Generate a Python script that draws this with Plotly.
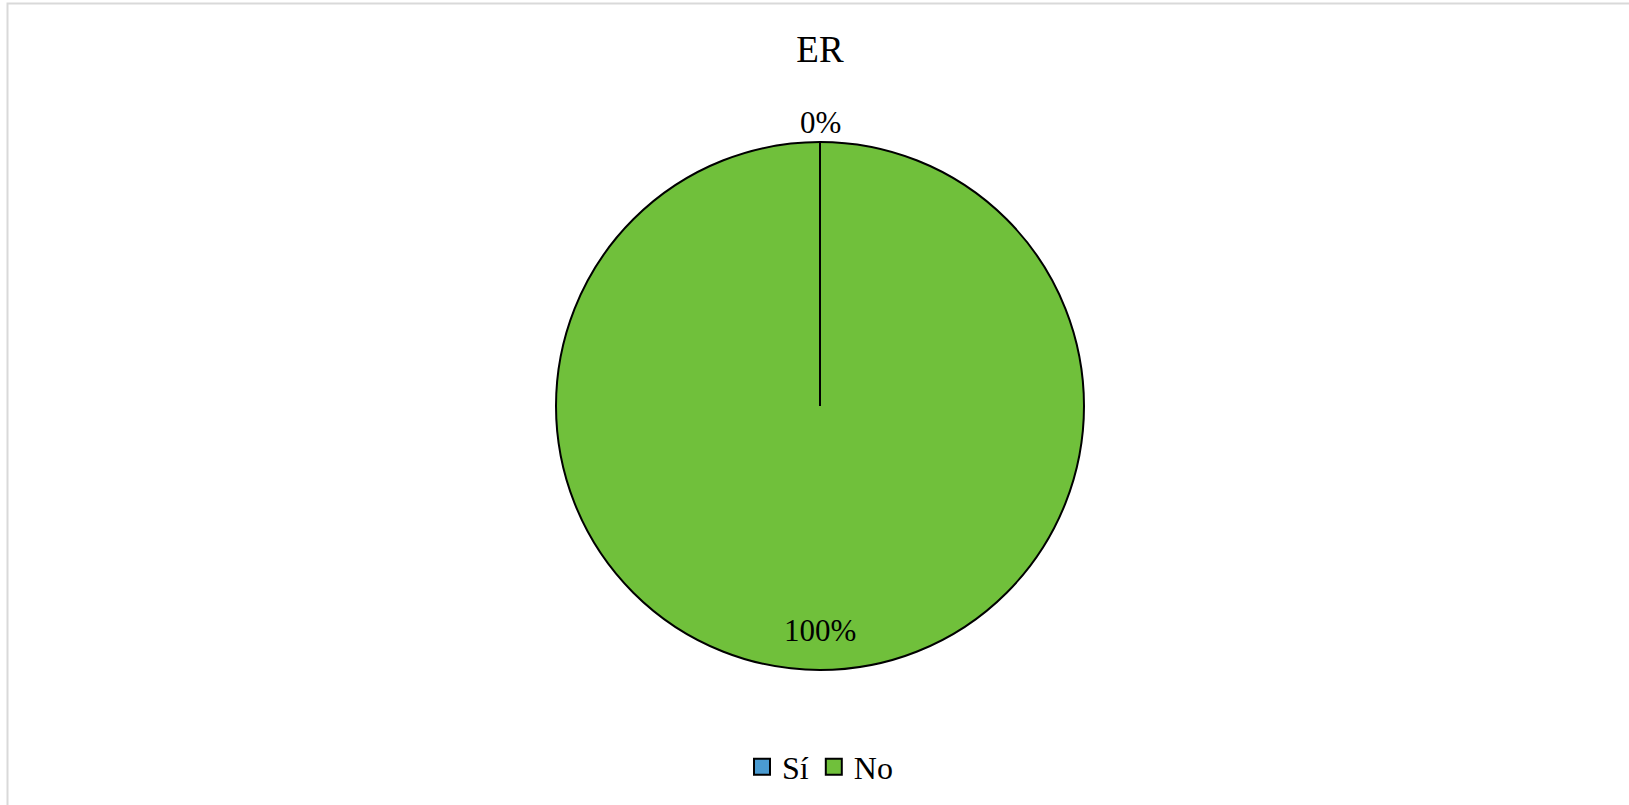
import math
import plotly.graph_objects as go

title = "ER"
categories = ["Sí", "No"]
values = [0, 100]
colors = ["#4A9BD1", "#70C03B"]

W, H = 1629, 805
cx, cy, R = 820, 406, 264  # pixel geometry of the pie

total = sum(values)
pcts = [v / total * 100 for v in values]

fig = go.Figure()
fig.add_trace(go.Pie(
    labels=categories, values=values, sort=False, direction="clockwise", rotation=0,
    marker=dict(colors=colors, line=dict(color="black", width=2)),
    textinfo="none", hoverinfo="label+percent",
    domain=dict(x=[(cx - R) / W, (cx + R) / W], y=[1 - (cy + R) / H, 1 - (cy - R) / H]),
    showlegend=False,
))

# legend entries (square markers with black outline)
for cat, col in zip(categories, colors):
    fig.add_trace(go.Scatter(
        x=[None], y=[None], mode="markers", name=cat,
        marker=dict(symbol="square", size=16, color=col, line=dict(color="black", width=2)),
        showlegend=True,
    ))

# labels and slice boundaries from data
annotations = []
shapes = []
cum = 0.0
for cat, v, p in zip(categories, values, pcts):
    start = cum / total * 2 * math.pi
    cum += v
    end = cum / total * 2 * math.pi
    mid = (start + end) / 2
    bx = cx + R * math.sin(start)
    by = cy - R * math.cos(start)
    shapes.append(dict(type="line", xref="paper", yref="paper",
                       x0=cx / W, y0=1 - cy / H, x1=bx / W, y1=1 - by / H,
                       line=dict(color="black", width=2)))
    rr = R + 20 if v == 0 else R * 0.85
    lx = cx + rr * math.sin(mid)
    ly = cy - rr * math.cos(mid)
    annotations.append(dict(x=lx / W, y=1 - ly / H, xref="paper", yref="paper",
                            text=f"{p:.0f}%", showarrow=False,
                            font=dict(family="Liberation Serif", size=31, color="black"),
                            xanchor="center", yanchor="middle"))

# chart border
shapes.append(dict(type="rect", xref="paper", yref="paper",
                   x0=7.5 / W, x1=1.05, y0=-0.05, y1=1 - 3.5 / H,
                   line=dict(color="#D9D9D9", width=2), fillcolor="rgba(0,0,0,0)", layer="below"))

fig.update_layout(
    width=W, height=H,
    margin=dict(l=0, r=0, t=0, b=0),
    paper_bgcolor="white", plot_bgcolor="white",
    xaxis=dict(visible=False), yaxis=dict(visible=False),
    title=dict(text=title, x=cx / W, xanchor="center", y=1 - 49 / H, yanchor="middle",
               font=dict(family="Liberation Serif", size=37, color="black")),
    legend=dict(orientation="h", x=cx / W, xanchor="center", y=1 - 767 / H, yanchor="middle",
                font=dict(family="Liberation Serif", size=32, color="black"),
                itemwidth=30, tracegroupgap=0),
    annotations=annotations, shapes=shapes,
)

fig.write_html("out.html", config={"displayModeBar": False},
               post_script="document.body.style.margin='0';")
